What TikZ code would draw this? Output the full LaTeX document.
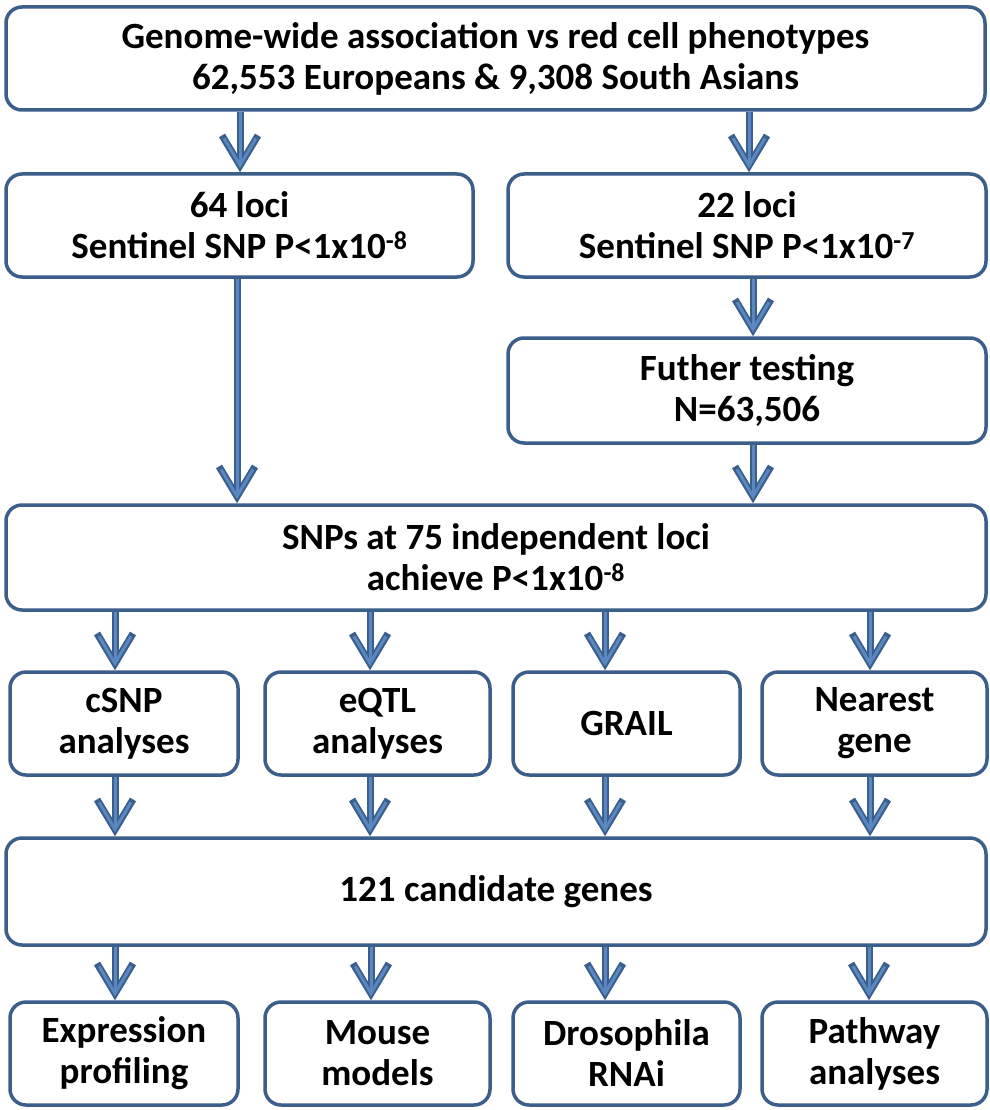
\documentclass[tikz,border=0pt]{standalone}
\usepackage{fontspec}
\setmainfont{Carlito}
\usetikzlibrary{arrows.meta}
\definecolor{boxblue}{HTML}{3B5E8A}
\definecolor{arrdark}{HTML}{3A5F8C}
\definecolor{arrlight}{HTML}{5B87C0}
\tikzset{
  box/.style={draw=boxblue, line width=3.5pt, rounded corners=16pt, fill=white,
    align=center, inner sep=0pt, font=\bfseries\fontsize{37}{41}\selectfont},
  arrdk/.style={draw=arrdark, line width=7pt, -{Straight Barb[length=30pt,width=36pt,line width=7pt]}},
  arrlt/.style={draw=arrlight, line width=3pt, shorten >=4pt, -{Straight Barb[length=27pt,width=32pt,line width=3pt]}},
}
\newcommand{\flowarrow}[3]{%
  \draw[arrdk] (#1.south -| #3,0) -- (#2.north -| #3,0);
  \draw[arrlt] (#1.south -| #3,0) -- (#2.north -| #3,0);
}
\begin{document}
\begin{tikzpicture}[x=1pt,y=-1pt]
\useasboundingbox (0,0) rectangle (989,1110);
\node[box, minimum width=979pt, minimum height=103pt] (top) at (495.5,58.5)
  {Genome-wide association vs red cell phenotypes\\62,553 Europeans \& 9,308 South Asians};
\node[box, minimum width=467pt, minimum height=103pt] (l64) at (239.5,225.5)
  {64 loci\\Sentinel SNP P<1x10\textsuperscript{-8}};
\node[box, minimum width=478pt, minimum height=103pt] (l22) at (747,225.5)
  {22 loci\\Sentinel SNP P<1x10\textsuperscript{-7}};
\node[box, minimum width=478pt, minimum height=105pt] (fur) at (747,390.5)
  {Futher testing\\N=63,506};
\node[box, minimum width=980pt, minimum height=105pt] (snp) at (496,557.5)
  {SNPs at 75 independent loci\\achieve P<1x10\textsuperscript{-8}};
\node[box, minimum width=228pt, minimum height=103pt] (m1) at (124,723.5) {cSNP\\analyses};
\node[box, minimum width=225pt, minimum height=103pt] (m2) at (377.5,723.5) {eQTL\\analyses};
\node[box, minimum width=227pt, minimum height=103pt] (m3) at (626.5,723.5) {GRAIL};
\node[box, minimum width=225pt, minimum height=103pt] (m4) at (874.5,723.5) {Nearest\\gene};
\node[box, minimum width=980pt, minimum height=107pt] (cand) at (496,891.5) {121 candidate genes};
\node[box, minimum width=228pt, minimum height=103pt] (b1) at (124,1053.5) {Expression\\profiling};
\node[box, minimum width=225pt, minimum height=103pt] (b2) at (377.5,1053.5) {Mouse\\models};
\node[box, minimum width=227pt, minimum height=103pt] (b3) at (626.5,1053.5) {Drosophila\\RNAi};
\node[box, minimum width=225pt, minimum height=103pt] (b4) at (874.5,1053.5) {Pathway\\analyses};
\flowarrow{top}{l64}{240}
\flowarrow{top}{l22}{749}
\flowarrow{l22}{fur}{753}
\flowarrow{fur}{snp}{753}
\flowarrow{l64}{snp}{237}
\flowarrow{snp}{m1}{115}
\flowarrow{snp}{m2}{370}
\flowarrow{snp}{m3}{605}
\flowarrow{snp}{m4}{870}
\flowarrow{m1}{cand}{115}
\flowarrow{m2}{cand}{370}
\flowarrow{m3}{cand}{605}
\flowarrow{m4}{cand}{870}
\flowarrow{cand}{b1}{115}
\flowarrow{cand}{b2}{371}
\flowarrow{cand}{b3}{605}
\flowarrow{cand}{b4}{869}
\end{tikzpicture}
\end{document}
